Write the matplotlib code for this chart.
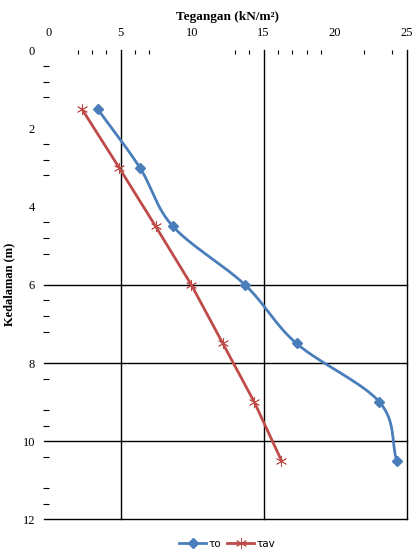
import numpy as np
import matplotlib
matplotlib.use("Agg")
import matplotlib.pyplot as plt

# depth (m) and stresses (kN/m2)
depth = [1.5, 3.0, 4.5, 6.0, 7.5, 9.0, 10.5]
tau_o = [3.4, 6.35, 8.65, 13.7, 17.3, 23.1, 24.3]
tau_av = [2.3, 4.9, 7.45, 9.95, 12.15, 14.35, 16.25]

BLUE = "#4A7EBB"
RED = "#BE4B48"


def smooth(xs, ys, n=30):
    # Catmull-Rom curve through the points, like Excel's smoothed line
    p = np.column_stack([xs, ys]).astype(float)
    p = np.vstack([2 * p[0] - p[1], p, 2 * p[-1] - p[-2]])
    out = []
    for i in range(1, len(p) - 2):
        p0, p1, p2, p3 = p[i - 1], p[i], p[i + 1], p[i + 2]
        t = np.linspace(0, 1, n)[:, None]
        c = 0.5 * ((2 * p1) + (-p0 + p2) * t + (2 * p0 - 5 * p1 + 4 * p2 - p3) * t ** 2
                   + (-p0 + 3 * p1 - 3 * p2 + p3) * t ** 3)
        out.append(c)
    c = np.vstack(out)
    return c[:, 0], c[:, 1]


plt.rcParams['font.family'] = ['Liberation Serif', 'DejaVu Serif']

fig = plt.figure(figsize=(4.13, 5.5), dpi=100)
ax = fig.add_axes([0.1186, 0.0558, 0.8661, 0.8526])

ax.set_xlim(0, 25)
ax.set_ylim(12, 0)

# gridlines that show in the original
for gx in [5, 15, 25]:
    ax.plot([gx, gx], [0, 12], color="black", lw=1.0, clip_on=False, zorder=1)
for gy in [6, 8, 10, 12]:
    ax.plot([-0.35, 25], [gy, gy], color="black", lw=1.0, clip_on=False, zorder=1)

sx, sy = smooth(tau_o, depth)
ax.plot(sx, sy, color=BLUE, lw=2.0, zorder=3)
ax.plot(tau_o, depth, ls="none", marker="D", ms=5, color=BLUE, zorder=4)
ax.plot(tau_av, depth, color=RED, lw=2.0, zorder=3)
ax.plot(tau_av, depth, ls="none", marker=(6, 2, 0), ms=8, mew=0.6, color=RED, zorder=4)

for s in ax.spines.values():
    s.set_visible(False)

ax.xaxis.tick_top()
ax.set_xticks([0, 5, 10, 15, 20, 25])
ax.set_xticks([2, 3, 4, 6, 7, 13, 14, 16, 17, 18, 19, 22, 24], minor=True)
ax.set_yticks([0, 2, 4, 6, 8, 10, 12])
ax.set_yticks([0.4, 0.8, 1.2, 2.4, 2.8, 3.2, 4.4, 4.8, 5.2, 6.4, 6.8, 7.2,
               8.4, 9.2, 9.6, 10.4, 11.2, 11.6], minor=True)
ax.tick_params(axis="both", which="major", length=0, labelsize=9, pad=10)
ax.tick_params(axis="x", which="major", pad=8)
ax.tick_params(axis="x", which="minor", direction="in", length=3, width=0.8)
ax.tick_params(axis="y", which="minor", direction="out", length=4, width=0.8)
ax.set_xlabel("Tegangan (kN/m²)", fontsize=9.5, fontweight="bold")
ax.xaxis.set_label_position("top")
ax.xaxis.set_label_coords(0.5, 1.0 + 30 / 469)
ax.set_ylabel("Kedalaman (m)", fontsize=9, fontweight="bold")
ax.yaxis.set_label_coords(-34 / 358, 0.5)

h1, = ax.plot([], [], color=BLUE, lw=2, marker="D", ms=5, label="τo")
h2, = ax.plot([], [], color=RED, lw=2, marker=(6, 2, 0), ms=8, mew=0.6, label="τav")
leg = fig.legend(handles=[h1, h2], loc="lower center", bbox_to_anchor=(0.55, -0.015),
                 ncol=2, frameon=False, prop={"family": "DejaVu Sans", "size": 7.5},
                 handlelength=2.6, columnspacing=0.6, handletextpad=0.2)

fig.savefig("out.png", dpi=100)
